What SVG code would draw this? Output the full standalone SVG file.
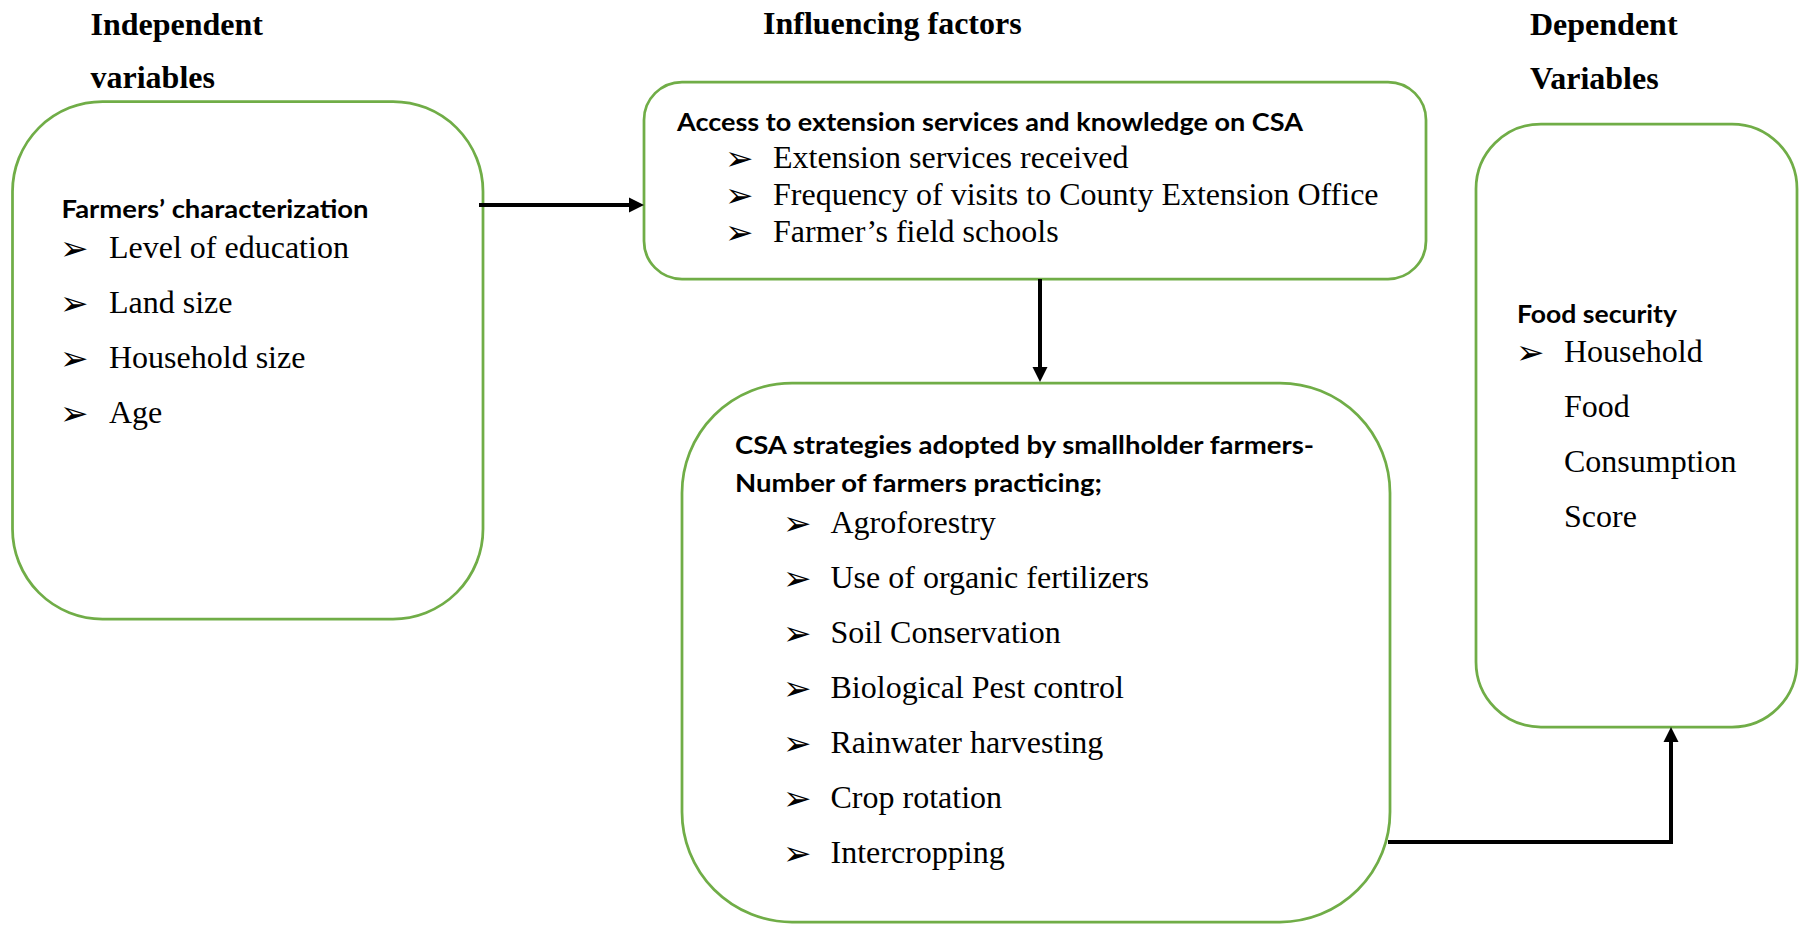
<svg xmlns="http://www.w3.org/2000/svg" width="1800" height="925" viewBox="0 0 1800 925">
<style>
.box{fill:#fff;stroke:#70AD47;stroke-width:2.75}
.title{font-family:"Liberation Serif",serif;font-weight:bold;font-size:32px;fill:#000}
.head{font-family:Lato,"Liberation Sans",sans-serif;font-weight:bold;font-size:24px;fill:#000}
.item{font-family:"Liberation Serif",serif;font-size:32px;fill:#000}
.bul{font-family:"DejaVu Sans",sans-serif;font-size:34px;fill:#000}
.conn{fill:none;stroke:#000;stroke-width:4;stroke-linejoin:miter}
</style>
<defs>
<marker id="arr" markerUnits="userSpaceOnUse" markerWidth="16" markerHeight="16" refX="0" refY="7.5" orient="auto" overflow="visible">
<path d="M0,0 L15,7.5 L0,15 Z" fill="#000"/>
</marker>
</defs>
<rect width="1800" height="925" fill="#fff"/>

<g id="titles">
<text class="title" x="90.5" y="35">Independent</text>
<text class="title" x="90.5" y="88">variables</text>
<text class="title" x="763" y="34">Influencing factors</text>
<text class="title" x="1530" y="35">Dependent</text>
<text class="title" x="1530" y="89">Variables</text>
</g>

<g id="independent">
<rect class="box" x="12.5" y="101.5" width="470.5" height="517.5" rx="90" ry="90"/>
<text class="head" x="61.5" y="217.5" textLength="307" lengthAdjust="spacingAndGlyphs">Farmers’ characterization</text>
<text class="bul" x="60" y="260">➢</text><text class="item" x="109" y="258">Level of education</text>
<text class="bul" x="60" y="315">➢</text><text class="item" x="109" y="313">Land size</text>
<text class="bul" x="60" y="370">➢</text><text class="item" x="109" y="368">Household size</text>
<text class="bul" x="60" y="425">➢</text><text class="item" x="109" y="423">Age</text>
</g>

<g id="influencing">
<rect class="box" x="644" y="82" width="782" height="197" rx="38" ry="38"/>
<text class="head" x="677" y="131" textLength="626" lengthAdjust="spacingAndGlyphs">Access to extension services and knowledge on CSA</text>
<text class="bul" x="725" y="170">➢</text><text class="item" x="773" y="168">Extension services received</text>
<text class="bul" x="725" y="207">➢</text><text class="item" x="773" y="205">Frequency of visits to County Extension Office</text>
<text class="bul" x="725" y="244">➢</text><text class="item" x="773" y="242">Farmer’s field schools</text>
</g>

<g id="strategies">
<rect class="box" x="682" y="383" width="708" height="539" rx="110" ry="110"/>
<text class="head" x="735" y="453.5" textLength="579" lengthAdjust="spacingAndGlyphs">CSA strategies adopted by smallholder farmers-</text>
<text class="head" x="735" y="492" textLength="367" lengthAdjust="spacingAndGlyphs">Number of farmers practicing;</text>
<text class="bul" x="783" y="535">➢</text><text class="item" x="830.5" y="533">Agroforestry</text>
<text class="bul" x="783" y="590">➢</text><text class="item" x="830.5" y="588">Use of organic fertilizers</text>
<text class="bul" x="783" y="645">➢</text><text class="item" x="830.5" y="643">Soil Conservation</text>
<text class="bul" x="783" y="700">➢</text><text class="item" x="830.5" y="698">Biological Pest control</text>
<text class="bul" x="783" y="755">➢</text><text class="item" x="830.5" y="753">Rainwater harvesting</text>
<text class="bul" x="783" y="810">➢</text><text class="item" x="830.5" y="808">Crop rotation</text>
<text class="bul" x="783" y="865">➢</text><text class="item" x="830.5" y="863">Intercropping</text>
</g>

<g id="dependent">
<rect class="box" x="1476" y="124" width="321" height="603" rx="65" ry="65"/>
<text class="head" x="1517" y="323" textLength="160" lengthAdjust="spacingAndGlyphs">Food security</text>
<text class="bul" x="1516" y="364">➢</text><text class="item" x="1564" y="362">Household</text>
<text class="item" x="1564" y="417">Food</text>
<text class="item" x="1564" y="472">Consumption</text>
<text class="item" x="1564" y="527">Score</text>
</g>

<g id="connectors">
<path class="conn" d="M479,205 H629" marker-end="url(#arr)"/>
<path class="conn" d="M1040,279 V367" marker-end="url(#arr)"/>
<path class="conn" d="M1388,842 H1671 V742" marker-end="url(#arr)"/>
</g>
</svg>
